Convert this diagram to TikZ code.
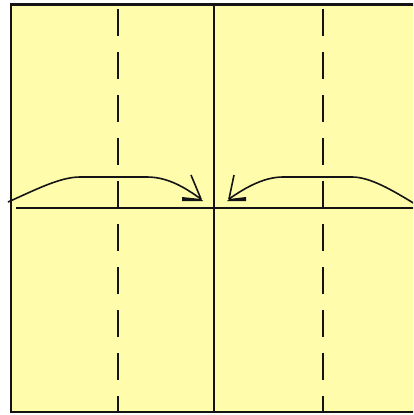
\documentclass[tikz,border=0pt]{standalone}
\definecolor{paper}{RGB}{255,252,172}
\definecolor{ink}{RGB}{20,20,20}
\tikzset{
  foldline/.style={draw=ink, line width=1.8pt},
  valley/.style={draw=ink, line width=1.8pt, dash pattern=on 27pt off 16pt},
  arrowline/.style={draw=ink, line width=1.6pt},
}
\begin{document}
\begin{tikzpicture}[x=1pt,y=-1pt]
\useasboundingbox (0,0) rectangle (413,415);
\clip (0,0) rectangle (413,415);
\fill[paper] (11,4.5) rectangle (420,412);
\draw[ink, line width=2.2pt] (11,4.5) rectangle (420,412);
% named points
\coordinate (ctop) at (214,4.5);
\coordinate (cbot) at (214,412);
\coordinate (ltop) at (118,9);
\coordinate (lbot) at (118,412);
\coordinate (rtop) at (323,9);
\coordinate (rbot) at (323,412);
\coordinate (hl) at (16,208);
\coordinate (hr) at (420,208);
% center line and horizontal line
\draw[foldline] (ctop) -- (cbot);
\draw[foldline] (hl) -- (hr);
% dashed valley lines
\draw[valley] (ltop) -- (lbot);
\draw[valley] (rtop) -- (rbot);
% left arrow
\coordinate (la) at (8,202);
\coordinate (lt) at (201,199);
\draw[arrowline] (la) .. controls (35,190) and (60,177) .. (80,177) -- (147,177) .. controls (170,177) and (188,190) .. (lt);
\draw[arrowline] (lt) -- (191,175);
\fill[ink] (lt) -- (182,197) -- (182,201) -- (203,201) -- cycle;
% right arrow
\coordinate (ra) at (415,204);
\coordinate (rt) at (229,199);
\draw[arrowline] (ra) .. controls (392,190) and (370,177) .. (352,177) -- (283,177) .. controls (262,177) and (242,190) .. (rt);
\draw[arrowline] (rt) -- (234,175);
\fill[ink] (rt) -- (246,197) -- (246,201) -- (227,201) -- cycle;
\end{tikzpicture}
\end{document}
